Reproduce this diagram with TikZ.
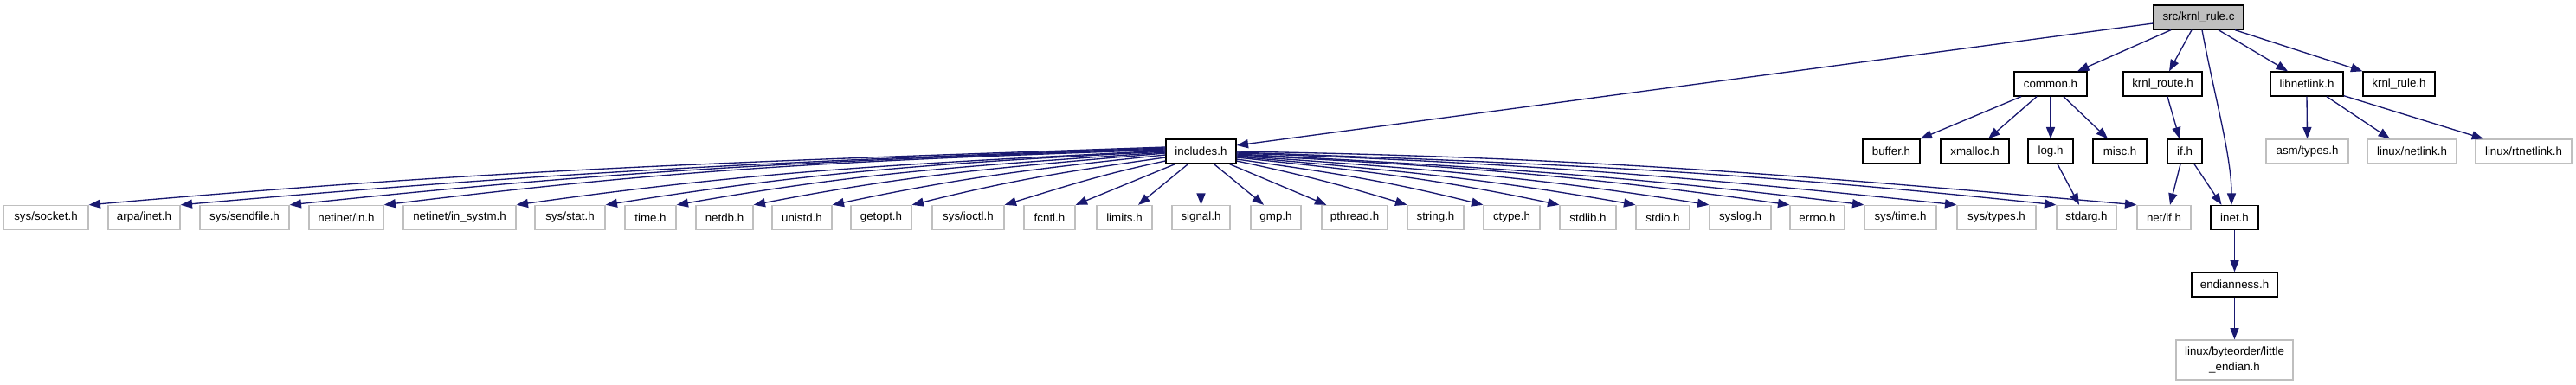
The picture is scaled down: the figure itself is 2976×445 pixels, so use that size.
\documentclass[tikz,border=0pt]{standalone}
\usepackage{fontspec}
\setmainfont{Liberation Sans}
\usetikzlibrary{arrows.meta,calc}
\definecolor{edgeblue}{HTML}{191970}
\definecolor{undoc}{HTML}{BFBFBF}
\definecolor{rootfill}{HTML}{BFBFBF}
\tikzset{
  hdr/.style={draw=black, line width=1pt, rectangle, inner sep=0pt, minimum height=21pt, font=\fontsize{10}{13}\selectfont, fill=white},
  sys/.style={hdr, draw=undoc},
  root/.style={hdr, fill=rootfill},
  bw/.style={minimum width=#1*0.75pt},
  dep/.style={draw=edgeblue, line width=1pt, -{Triangle[length=10pt,width=7.5pt]}},
}
\begin{document}
\begin{tikzpicture}[x=0.75pt,y=0.75pt]
\useasboundingbox (0,0) rectangle (2976,-445);
% rank 0
\node[root,bw=104] (src) at (2540,-20) {src/krnl\_rule.c};
% rank 1
\node[hdr,bw=84] (common) at (2369,-97) {common.h};
\node[hdr,bw=91] (kroute) at (2498.5,-97) {krnl\_route.h};
\node[hdr,bw=84] (libnl) at (2665,-97) {libnetlink.h};
\node[hdr,bw=83] (kruleh) at (2771.5,-97) {krnl\_rule.h};
% rank 2
\node[hdr,bw=81] (includes) at (1387.5,-175) {includes.h};
\node[hdr,bw=66] (buffer) at (2185,-175) {buffer.h};
\node[hdr,bw=79] (xmalloc) at (2281.5,-175) {xmalloc.h};
\node[hdr,bw=52] (log) at (2369,-175) {log.h};
\node[hdr,bw=62] (misc) at (2449,-175) {misc.h};
\node[hdr,bw=40] (ifh) at (2524,-175) {if.h};
\node[sys,bw=95] (asmtypes) at (2665.5,-175) {asm/types.h};
\node[sys,bw=103] (lnetlink) at (2786.5,-175) {linux/netlink.h};
\node[sys,bw=111] (lrtnetlink) at (2915.5,-175) {linux/rtnetlink.h};
% rank 3
\node[sys,bw=98] (socket) at (53,-251.5) {sys/socket.h};
\node[sys,bw=83] (arpainet) at (166.5,-251.5) {arpa/inet.h};
\node[sys,bw=103] (sendfile) at (282.5,-251.5) {sys/sendfile.h};
\node[sys,bw=86] (netinetin) at (400,-251.5) {netinet/in.h};
\node[sys,bw=130] (insystm) at (531,-251.5) {netinet/in\_systm.h};
\node[sys,bw=81] (sysstat) at (658.5,-251.5) {sys/stat.h};
\node[sys,bw=59] (timeh) at (751.5,-251.5) {time.h};
\node[sys,bw=66] (netdb) at (837,-251.5) {netdb.h};
\node[sys,bw=69] (unistd) at (926.5,-251.5) {unistd.h};
\node[sys,bw=70] (getopt) at (1018,-251.5) {getopt.h};
\node[sys,bw=83] (ioctl) at (1118.5,-251.5) {sys/ioctl.h};
\node[sys,bw=59] (fcntl) at (1212.5,-251.5) {fcntl.h};
\node[sys,bw=64] (limits) at (1299,-251.5) {limits.h};
\node[sys,bw=67] (signal) at (1387.5,-251.5) {signal.h};
\node[sys,bw=58] (gmp) at (1474,-251.5) {gmp.h};
\node[sys,bw=76] (pthread) at (1565,-251.5) {pthread.h};
\node[sys,bw=65] (stringh) at (1658.5,-251.5) {string.h};
\node[sys,bw=65] (ctype) at (1746.5,-251.5) {ctype.h};
\node[sys,bw=65] (stdlib) at (1834.5,-251.5) {stdlib.h};
\node[sys,bw=62] (stdio) at (1921,-251.5) {stdio.h};
\node[sys,bw=71] (syslog) at (2010.5,-251.5) {syslog.h};
\node[sys,bw=63] (errno) at (2099.5,-251.5) {errno.h};
\node[sys,bw=83] (systime) at (2195.5,-251.5) {sys/time.h};
\node[sys,bw=91] (systypes) at (2306.5,-251.5) {sys/types.h};
\node[sys,bw=69] (stdarg) at (2410.5,-251.5) {stdarg.h};
\node[sys,bw=62] (netif) at (2500,-251.5) {net/if.h};
\node[hdr,bw=55] (inet) at (2581.5,-251.5) {inet.h};
% rank 4, 5
\node[hdr,bw=99] (endian) at (2581.5,-329) {endianness.h};
\node[sys,bw=135,minimum height=34.5pt,align=center] (little) at (2581.5,-416) {linux/byteorder/little\\\_endian.h};

% edges from src
\draw[dep] ($(src.west)+(0,-7)$) -- ($(includes.east)+(0,7)$);
\draw[dep] ($(src.south)+(-32,0)$) -- ($(common.north)+(31,0)$);
\draw[dep] ($(src.south)+(-8,0)$) -- ($(kroute.north)+(7.5,0)$);
\draw[dep] ($(src.south)+(4,0)$) .. controls (2558,-110) and (2578,-180) .. ($(inet.north)+(-3.5,0)$);
\draw[dep] ($(src.south)+(23,0)$) -- ($(libnl.north)+(-22,0)$);
\draw[dep] ($(src.south)+(42,0)$) -- (kruleh.north west);
% common
\draw[dep] ($(common.south)+(-34,0)$) -- (buffer.north east);
\draw[dep] ($(common.south)+(-16,0)$) -- ($(xmalloc.north)+(15.5,0)$);
\draw[dep] (common.south) -- (log.north);
\draw[dep] ($(common.south)+(15,0)$) -- ($(misc.north)+(-14,0)$);
% krnl_route, libnetlink
\draw[dep] ($(kroute.south)+(5.5,0)$) -- ($(ifh.north)+(-6,0)$);
\draw[dep] (libnl.south) -- (asmtypes.north);
\draw[dep] ($(libnl.south)+(23,0)$) -- ($(lnetlink.north)+(-25.5,0)$);
\draw[dep] ($(libnl.south east)+(0,1)$) -- ($(lrtnetlink.north)+(-46.5,0)$);
% log, if, inet, endianness
\draw[dep] ($(log.south)+(8,0)$) -- ($(stdarg.north)+(-8.5,0)$);
\draw[dep] ($(ifh.south)+(-5,0)$) -- ($(netif.north)+(7,0)$);
\draw[dep] ($(ifh.south)+(11,0)$) -- ($(inet.north)+(-15,0)$);
\draw[dep] (inet.south) -- (endian.north);
\draw[dep] (endian.south) -- (little.north);
% includes -> left
\draw[dep] ($(includes.west)+(0,5)$) to[out=182,in=5] (socket.north east);
\draw[dep] ($(includes.west)+(0,4)$) to[out=182,in=5] (arpainet.north east);
\draw[dep] ($(includes.west)+(0,3)$) to[out=182,in=6] (sendfile.north east);
\draw[dep] ($(includes.west)+(0,2)$) to[out=182,in=7] (netinetin.north east);
\draw[dep] ($(includes.west)+(0,1)$) to[out=183,in=8] (insystm.north east);
\draw[dep] ($(includes.west)+(0,0)$) to[out=183,in=9] (sysstat.north east);
\draw[dep] ($(includes.west)+(0,-1)$) to[out=184,in=10] (timeh.north east);
\draw[dep] ($(includes.west)+(0,-2)$) to[out=185,in=11] (netdb.north east);
\draw[dep] ($(includes.west)+(0,-4)$) to[out=186,in=12] (unistd.north east);
\draw[dep] ($(includes.west)+(0,-7)$) to[out=188,in=14] (getopt.north east);
\draw[dep] ($(includes.west)+(0,-11)$) to[out=192,in=17] (ioctl.north east);
% includes -> below
\draw[dep] ($(includes.south)+(-30,0)$) -- (fcntl.north east);
\draw[dep] ($(includes.south)+(-15,0)$) -- ($(limits.north)+(16,0)$);
\draw[dep] (includes.south) -- (signal.north);
\draw[dep] ($(includes.south)+(15,0)$) -- ($(gmp.north)+(-14,0)$);
\draw[dep] ($(includes.south)+(33,0)$) -- ($(pthread.north west)+(6,0)$);
% includes -> right
\draw[dep] ($(includes.east)+(0,-11)$) to[out=348,in=163] (stringh.north west);
\draw[dep] ($(includes.east)+(0,-9)$) to[out=352,in=166] (ctype.north west);
\draw[dep] ($(includes.east)+(0,-7)$) to[out=354,in=168] (stdlib.north west);
\draw[dep] ($(includes.east)+(0,-6)$) to[out=355,in=170] (stdio.north west);
\draw[dep] ($(includes.east)+(0,-5)$) to[out=356,in=171] (syslog.north west);
\draw[dep] ($(includes.east)+(0,-4)$) to[out=357,in=172] (errno.north west);
\draw[dep] ($(includes.east)+(0,-3)$) to[out=357,in=173] (systime.north west);
\draw[dep] ($(includes.east)+(0,-2)$) to[out=358,in=174] (systypes.north west);
\draw[dep] ($(includes.east)+(0,-1)$) to[out=358,in=174] (stdarg.north west);
\draw[dep] ($(includes.east)+(0,0)$) to[out=359,in=175] (netif.north west);
\end{tikzpicture}
\end{document}
